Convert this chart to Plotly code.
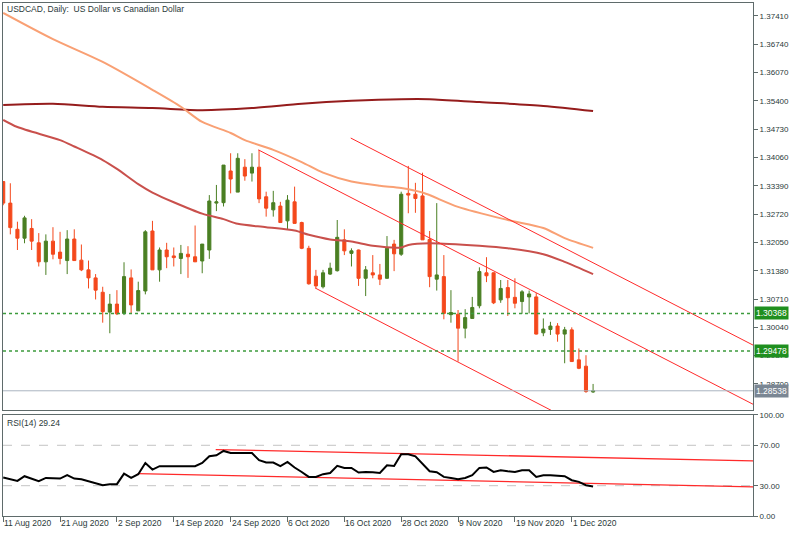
import plotly.graph_objects as go

# ---------------- data ----------------
bar_index = list(range(84))
date_tick_index = [0, 8, 16, 24, 32, 40, 48, 56, 64, 72, 80]
date_tick_labels = ["11 Aug 2020", "21 Aug 2020", "2 Sep 2020", "14 Sep 2020", "24 Sep 2020",
                    "6 Oct 2020", "16 Oct 2020", "28 Oct 2020", "9 Nov 2020", "19 Nov 2020", "1 Dec 2020"]

opens = [1.3349, 1.3298, 1.3236, 1.3215, 1.3238, 1.3204, 1.3159, 1.3208, 1.3182, 1.3162,
         1.3213, 1.3163, 1.3140, 1.3121, 1.3087, 1.3040, 1.3059, 1.3037, 1.3121, 1.3043,
         1.3090, 1.3232, 1.3140, 1.3187, 1.3173, 1.3167, 1.3177, 1.3171, 1.3161, 1.3187,
         1.3298, 1.3299, 1.3374, 1.3324, 1.3383, 1.3369, 1.3383, 1.3313, 1.3282, 1.3291,
         1.3256, 1.3301, 1.3252, 1.3191, 1.3125, 1.3100, 1.3130, 1.3138, 1.3211, 1.3179,
         1.3187, 1.3120, 1.3133, 1.3128, 1.3120, 1.3201, 1.3177, 1.3321, 1.3319, 1.3315,
         1.3212, 1.3118, 1.3124, 1.3034, 1.3035, 1.3002, 1.3025, 1.3055, 1.3133, 1.3133,
         1.3069, 1.3098, 1.3075, 1.3065, 1.3076, 1.3076, 1.2991, 1.2999, 1.3007, 1.2988,
         1.2998, 1.2927, 1.2912, 1.2851]
highs = [1.3350, 1.3345, 1.3254, 1.3268, 1.3260, 1.3227, 1.3224, 1.3241, 1.3230, 1.3234,
         1.3236, 1.3200, 1.3162, 1.3130, 1.3100, 1.3083, 1.3092, 1.3158, 1.3141, 1.3112,
         1.3234, 1.3256, 1.3193, 1.3204, 1.3193, 1.3199, 1.3196, 1.3245, 1.3201, 1.3317,
         1.3341, 1.3388, 1.3416, 1.3416, 1.3402, 1.3416, 1.3424, 1.3325, 1.3327, 1.3301,
         1.3317, 1.3337, 1.3254, 1.3197, 1.3140, 1.3140, 1.3157, 1.3258, 1.3236, 1.3191,
         1.3188, 1.3149, 1.3175, 1.3154, 1.3220, 1.3211, 1.3325, 1.3386, 1.3346, 1.3370,
         1.3232, 1.3298, 1.3175, 1.3092, 1.3045, 1.3047, 1.3076, 1.3146, 1.3170, 1.3134,
         1.3116, 1.3116, 1.3120, 1.3092, 1.3091, 1.3085, 1.3025, 1.3017, 1.3014, 1.3005,
         1.3004, 1.2954, 1.2938, 1.2870]
lows = [1.3293, 1.3224, 1.3187, 1.3203, 1.3187, 1.3148, 1.3128, 1.3165, 1.3153, 1.3130,
        1.3161, 1.3137, 1.3096, 1.3070, 1.3015, 1.2990, 1.3033, 1.3033, 1.3037, 1.3043,
        1.3082, 1.3140, 1.3112, 1.3144, 1.3148, 1.3130, 1.3121, 1.3159, 1.3132, 1.3166,
        1.3279, 1.3290, 1.3321, 1.3324, 1.3351, 1.3349, 1.3298, 1.3266, 1.3266, 1.3252,
        1.3236, 1.3250, 1.3189, 1.3105, 1.3096, 1.3096, 1.3128, 1.3136, 1.3175, 1.3148,
        1.3102, 1.3078, 1.3120, 1.3104, 1.3119, 1.3137, 1.3173, 1.3274, 1.3275, 1.3211,
        1.3099, 1.3091, 1.3023, 1.3015, 1.2923, 1.2978, 1.3025, 1.3049, 1.3111, 1.3059,
        1.3062, 1.3031, 1.3049, 1.3036, 1.3037, 1.2987, 1.2983, 1.2986, 1.2970, 1.2919,
        1.2923, 1.2905, 1.2849, 1.2849]
closes = [1.3298, 1.3240, 1.3215, 1.3263, 1.3208, 1.3159, 1.3208, 1.3177, 1.3167, 1.3213,
          1.3162, 1.3140, 1.3121, 1.3092, 1.3041, 1.3059, 1.3036, 1.3124, 1.3057, 1.3091,
          1.3230, 1.3140, 1.3187, 1.3171, 1.3169, 1.3179, 1.3171, 1.3159, 1.3201, 1.3303,
          1.3301, 1.3388, 1.3355, 1.3404, 1.3362, 1.3383, 1.3308, 1.3286, 1.3299, 1.3252,
          1.3305, 1.3250, 1.3191, 1.3107, 1.3102, 1.3133, 1.3144, 1.3217, 1.3185, 1.3185,
          1.3120, 1.3140, 1.3128, 1.3118, 1.3191, 1.3178, 1.3319, 1.3317, 1.3309, 1.3211,
          1.3124, 1.3128, 1.3037, 1.3039, 1.3002, 1.3027, 1.3051, 1.3136, 1.3126, 1.3062,
          1.3096, 1.3074, 1.3061, 1.3088, 1.3083, 1.2988, 1.3000, 1.3007, 1.2988, 1.2998,
          1.2923, 1.2907, 1.2852, 1.28538]

# moving averages (values read at selected bars)
ma_orange_idx = [0, 7, 14, 21, 25, 28, 32, 34, 38, 42, 45, 49, 53, 56, 59, 64, 71, 76, 79, 83]
ma_orange_val = [1.3748, 1.3686, 1.3632, 1.3566, 1.3526, 1.3490, 1.3464, 1.3447, 1.3424, 1.3395,
                 1.3370, 1.3349, 1.3339, 1.3334, 1.3323, 1.3289, 1.3258, 1.3239, 1.3215, 1.3192]
ma_dark_idx = [0, 7, 14, 21, 28, 35, 42, 49, 56, 60, 67, 76, 83]
ma_dark_val = [1.3530, 1.3533, 1.3526, 1.3523, 1.3518, 1.3523, 1.3533, 1.3540, 1.3544, 1.3544,
               1.3537, 1.3528, 1.3516]
ma_red_idx = [0, 2, 8, 10, 14, 16, 19, 21, 24, 28, 31, 33, 37, 41, 43, 46, 49, 52, 56, 57,
              60, 67, 71, 76, 79, 83]
ma_red_val = [1.3495, 1.3478, 1.3447, 1.3432, 1.3400, 1.3379, 1.3343, 1.3323, 1.3300, 1.3273,
              1.3260, 1.3249, 1.3241, 1.3233, 1.3223, 1.3212, 1.3207, 1.3197, 1.3193, 1.3199,
              1.3203, 1.3197, 1.3191, 1.3177, 1.3159, 1.3130]

# channel trend lines (bar index, price)
trend_a_x = [35.9, 105.5]
trend_a_y = [1.3424, 1.2822]
trend_b_x = [48.9, 105.5]
trend_b_y = [1.3452, 1.2962]
trend_c_x = [43.9, 105.5]
trend_c_y = [1.3097, 1.2560]

levels_green = [1.30368, 1.29478]
level_bid = 1.28538

price_ticks = [1.37410, 1.36740, 1.36070, 1.35400, 1.34730, 1.34060, 1.33390, 1.32720,
               1.32050, 1.31380, 1.30710, 1.30040, 1.29370, 1.28700]
price_ticktext = ["1.37410", "1.36740", "1.36070", "1.35400", "1.34730", "1.34060", "1.33390",
                  "1.32720", "1.32050", "1.31380", "1.30710", "1.30040", "1.29370", "1.28700"]

rsi_values = [38.1, 36.4, 34.7, 39.4, 36.9, 34.4, 37.7, 37.1, 37.1, 40.4,
              37.1, 36.4, 34.4, 32.8, 30.5, 31.5, 31.5, 42.0, 37.7, 41.4,
              52.5, 46.0, 49.3, 49.3, 49.3, 49.3, 48.6, 49.3, 52.5, 59.1,
              60.1, 64.4, 62.4, 62.4, 61.8, 62.4, 55.2, 52.9, 52.9, 49.3,
              53.5, 48.0, 43.6, 38.7, 38.7, 41.4, 42.6, 49.6, 47.6, 47.6,
              43.0, 43.6, 43.3, 42.6, 50.2, 49.6, 61.1, 61.1, 59.1, 51.9,
              44.3, 43.3, 38.7, 37.7, 36.4, 37.7, 40.4, 47.6, 48.0, 43.6,
              45.3, 44.3, 43.6, 45.3, 45.3, 38.7, 40.4, 40.4, 39.7, 39.4,
              35.4, 33.8, 30.5, 29.24]
rsi_levels = [70, 30]
rsi_ticks = [100, 70, 30, 0]
rsi_ticktext = ["100.00", "70.00", "30.00", "0.00"]
rsi_up_x = [29.9, 105.5]
rsi_up_y = [65.75, 54.5]
rsi_low_x = [18.9, 105.5]
rsi_low_y = [42.05, 28.8]

# ---------------- styling ----------------
FONT = "Liberation Sans"
FS = 8
AXIS_COL = "#5f6b6b"
TXT_COL = "#2b3a3a"
BULL = "#4a7f23"
BEAR = "#f4481c"
X_RANGE = [-0.03, 105.5]

fig = go.Figure()

fig.add_trace(go.Candlestick(
    x=bar_index, open=opens, high=highs, low=lows, close=closes,
    increasing=dict(line=dict(color=BULL, width=1), fillcolor=BULL),
    decreasing=dict(line=dict(color=BEAR, width=1), fillcolor=BEAR),
    whiskerwidth=0, xaxis="x", yaxis="y", showlegend=False))

for idx, val, col in [(ma_dark_idx, ma_dark_val, "#951c1c"),
                      (ma_orange_idx, ma_orange_val, "#f9a074"),
                      (ma_red_idx, ma_red_val, "#c9504c")]:
    fig.add_trace(go.Scatter(x=idx, y=val, mode="lines",
                             line=dict(color=col, width=2, shape="spline", smoothing=0.8),
                             xaxis="x", yaxis="y", showlegend=False))

for tx, ty in [(trend_a_x, trend_a_y), (trend_b_x, trend_b_y), (trend_c_x, trend_c_y)]:
    fig.add_trace(go.Scatter(x=tx, y=ty, mode="lines", line=dict(color="#ff2a2a", width=1),
                             xaxis="x", yaxis="y", showlegend=False))

for lv in levels_green:
    fig.add_trace(go.Scatter(x=X_RANGE, y=[lv, lv], mode="lines",
                             line=dict(color="#3c9b3c", width=1.5, dash="dot"),
                             xaxis="x", yaxis="y", showlegend=False))
fig.add_trace(go.Scatter(x=X_RANGE, y=[level_bid, level_bid], mode="lines",
                         line=dict(color="#aab4c0", width=1),
                         xaxis="x", yaxis="y", showlegend=False))

# RSI panel
for lv in rsi_levels:
    fig.add_trace(go.Scatter(x=X_RANGE, y=[lv, lv], mode="lines",
                             line=dict(color="#c4c4c4", width=1, dash="dash"),
                             xaxis="x2", yaxis="y2", showlegend=False))
for tx, ty in [(rsi_up_x, rsi_up_y), (rsi_low_x, rsi_low_y)]:
    fig.add_trace(go.Scatter(x=tx, y=ty, mode="lines", line=dict(color="#ff2a2a", width=1.3),
                             xaxis="x2", yaxis="y2", showlegend=False))
fig.add_trace(go.Scatter(x=bar_index, y=rsi_values, mode="lines",
                         line=dict(color="#000000", width=2),
                         xaxis="x2", yaxis="y2", showlegend=False))

ann = [
    dict(text="USDCAD, Daily:  US Dollar vs Canadian Dollar", xref="paper", yref="paper",
         x=0, y=1, xanchor="left", yanchor="top", xshift=2, yshift=1, showarrow=False,
         font=dict(family=FONT, size=FS + 0.5, color=TXT_COL)),
    dict(text="RSI(14) 29.24", xref="paper", yref="y2", x=0, y=100, xanchor="left",
         yanchor="top", xshift=2, yshift=-1, showarrow=False,
         font=dict(family=FONT, size=FS + 0.5, color=TXT_COL)),
]
# date labels, left-aligned at their tick like the terminal draws them
for ti, tl in zip(date_tick_index, date_tick_labels):
    ann.append(dict(text=tl, xref="x2", yref="paper", x=ti, y=0, xanchor="left",
                    yanchor="top", xshift=-1, yshift=0, showarrow=False,
                    font=dict(family=FONT, size=FS + 0.5, color=TXT_COL)))
for lv in levels_green:
    ann.append(dict(text=f"{lv:.5f}", xref="paper", yref="y", x=1, y=lv, xanchor="left",
                    yanchor="middle", xshift=1, showarrow=False, bgcolor="#1f8f1f",
                    borderpad=1, font=dict(family=FONT, size=FS + 0.5, color="white")))
ann.append(dict(text=f"{level_bid:.5f}", xref="paper", yref="y", x=1, y=level_bid,
                xanchor="left", yanchor="middle", xshift=1, showarrow=False,
                bgcolor="#7b8794", borderpad=1, font=dict(family=FONT, size=FS + 0.5, color="white")))

fig.update_layout(
    width=800, height=533,
    margin=dict(l=3, r=47, t=3, b=17),
    paper_bgcolor="white", plot_bgcolor="white",
    font=dict(family=FONT, size=FS, color=TXT_COL),
    boxgap=0.38,
    annotations=ann,
    xaxis=dict(domain=[0, 1], range=X_RANGE, anchor="y", showgrid=False, zeroline=False,
               showticklabels=False, ticks="", showline=True, mirror=True, automargin=False,
               linecolor=AXIS_COL, linewidth=1, rangeslider=dict(visible=False)),
    yaxis=dict(domain=[0.2066, 1], range=[1.28083, 1.37716], side="right", showgrid=False,
               zeroline=False, tickvals=price_ticks, ticktext=price_ticktext, automargin=False,
               ticks="outside", ticklen=4, tickcolor=AXIS_COL, showline=True, mirror=True,
               linecolor=AXIS_COL, linewidth=1, tickfont=dict(family=FONT, size=FS, color=TXT_COL)),
    xaxis2=dict(domain=[0, 1], range=X_RANGE, anchor="y2", showgrid=False, zeroline=False,
                tickvals=date_tick_index, showticklabels=False, ticks="outside",
                ticklen=5, tickcolor=AXIS_COL, automargin=False,
                showline=True, mirror=True, linecolor=AXIS_COL, linewidth=1),
    yaxis2=dict(domain=[0, 0.1969], range=[0, 100], side="right", showgrid=False,
                zeroline=False, tickvals=rsi_ticks, ticktext=rsi_ticktext, ticks="outside",
                ticklen=4, tickcolor=AXIS_COL, showline=True, mirror=True, automargin=False,
                linecolor=AXIS_COL, linewidth=1, tickfont=dict(family=FONT, size=FS, color=TXT_COL)),
)

fig.write_html("out.html")
